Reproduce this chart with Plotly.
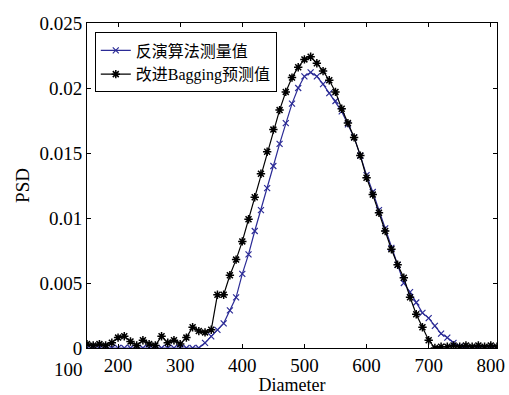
import plotly.graph_objects as go

# Diameter values
x_vals = [150, 160, 170, 180, 190, 200, 210, 220, 230, 240, 250, 260, 270, 280, 290,
          300, 310, 320, 330, 340, 350, 360, 370, 380, 390, 400, 410, 420, 430, 440,
          450, 460, 470, 480, 490, 500, 510, 520, 530, 540, 550, 560, 570, 580, 590,
          600, 610, 620, 630, 640, 650, 660, 670, 680, 690, 700, 710, 720, 730, 740,
          750, 760, 770, 780, 790, 800, 810]

# 反演算法测量值 (inversion algorithm measurement)
inv_vals = [0, 0, 0, 0, 0, 0, 0, 0, 0, 0, 0, 0, 0, 0, 0,
            0, 0, 0, 0.0000, 0.0004, 0.0009, 0.0014, 0.0019, 0.0029, 0.0039, 0.0057, 0.0072, 0.0090, 0.0106, 0.0123,
            0.0140, 0.0157, 0.0173, 0.0188, 0.0200, 0.0209, 0.0212, 0.0209, 0.0203, 0.0196, 0.0190, 0.0182, 0.0172, 0.0162, 0.0148,
            0.0133, 0.0120, 0.0106, 0.0092, 0.0077, 0.0064, 0.0050, 0.0043, 0.0035, 0.0027, 0.0023, 0.0017, 0.0011, 0.0008, 0.0004,
            0.0001, 0.0000, 0.0000, 0.0000, 0.0000, 0.0000, 0.0000]

# 改进Bagging预测值 (improved Bagging prediction)
bag_vals = [0.0003, 0.0002, 0.0003, 0.0002, 0.0004, 0.0008, 0.0009, 0.0005, 0.0002, 0.0006, 0.0003, 0.0002, 0.0009, 0.0004, 0.0006,
            0.0003, 0.0008, 0.0016, 0.0013, 0.0012, 0.0014, 0.0041, 0.0041, 0.0056, 0.0068, 0.0082, 0.0099, 0.0116, 0.0134, 0.0151,
            0.0168, 0.0183, 0.0197, 0.0208, 0.0216, 0.0222, 0.0224, 0.0219, 0.0213, 0.0206, 0.0197, 0.0184, 0.0173, 0.0162, 0.0148,
            0.0131, 0.0118, 0.0104, 0.0090, 0.0076, 0.0064, 0.0054, 0.0039, 0.0026, 0.0016, 0.0006, 0.0000, 0.0001, 0.0001, 0.0002,
            0.0001, 0.0002, 0.0001, 0.0002, 0.0001, 0.0002, 0.0001]

x_ticks = [200, 300, 400, 500, 600, 700, 800]
y_ticks = [0, 0.005, 0.01, 0.015, 0.02, 0.025]
y_tick_text = ["0", "0.005", "0.01", "0.015", "0.02", "0.025"]

FONT = "Liberation Serif, Times New Roman, Noto Sans CJK SC, serif"
BLUE = "#2b2b96"

fig = go.Figure()
fig.add_trace(go.Scatter(
    x=x_vals, y=inv_vals, mode="lines+markers", name="反演算法测量值",
    line=dict(color=BLUE, width=1.2),
    marker=dict(symbol="x-thin-open", size=6, line=dict(color=BLUE, width=1.2), color=BLUE),
))
fig.add_trace(go.Scatter(
    x=x_vals, y=bag_vals, mode="lines+markers", name="改进Bagging预测值",
    line=dict(color="black", width=1.2),
    marker=dict(symbol="asterisk-open", size=7, line=dict(color="black", width=1.5), color="black"),
))

axis_common = dict(
    showgrid=False, zeroline=False, showline=True, linecolor="black", linewidth=1,
    mirror="ticks", ticks="inside", ticklen=4, tickcolor="black",
    tickfont=dict(family=FONT, size=19, color="black"),
    ticklabeloverflow="allow",
)

fig.update_xaxes(range=[150, 810], tickvals=x_ticks, title=dict(text="Diameter", standoff=3,
                 font=dict(family=FONT, size=18, color="black")), **axis_common)
fig.update_yaxes(range=[0, 0.025], tickvals=y_ticks, ticktext=y_tick_text,
                 title=dict(text="PSD", standoff=4, font=dict(family=FONT, size=19, color="black")),
                 **axis_common)

fig.add_annotation(text="100", xref="paper", yref="paper", x=-0.045, y=0, yshift=-9,
                   showarrow=False, xanchor="center", yanchor="top",
                   font=dict(family=FONT, size=19, color="black"))

fig.update_layout(
    width=509, height=395,
    margin=dict(l=87, r=4, t=23, b=41),
    paper_bgcolor="white", plot_bgcolor="white",
    font=dict(family=FONT, size=19, color="black"),
    legend=dict(x=0.019, y=0.971, xanchor="left", yanchor="top",
                bordercolor="black", borderwidth=1, bgcolor="white",
                font=dict(family=FONT, size=16, color="black"),
                tracegroupgap=0, itemwidth=30),
    showlegend=True,
)

fig.write_html("out.html")
